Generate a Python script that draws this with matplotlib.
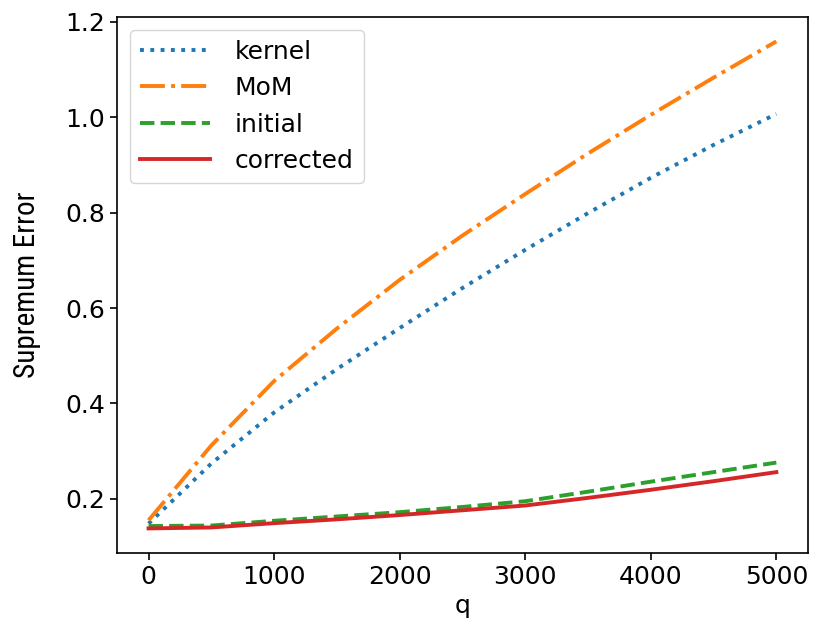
import matplotlib
matplotlib.use("Agg")
from matplotlib import pyplot as plt

# q values (every 500)
q = [0, 500, 1000, 1500, 2000, 2500, 3000, 3500, 4000, 4500, 5000]
# supremum error per method
kernel = [0.148, 0.274, 0.381, 0.472, 0.558, 0.642, 0.722, 0.799, 0.873, 0.942, 1.007]
mom = [0.155, 0.312, 0.447, 0.557, 0.659, 0.752, 0.839, 0.924, 1.005, 1.083, 1.159]
initial = [0.143, 0.144, 0.154, 0.163, 0.172, 0.183, 0.195, 0.215, 0.236, 0.256, 0.276]
corrected = [0.138, 0.140, 0.149, 0.157, 0.166, 0.176, 0.186, 0.202, 0.219, 0.237, 0.256]

fig = plt.figure(figsize=(8.31, 6.31), dpi=100)
ax = fig.add_axes([0.141, 0.124, 0.831, 0.849])
ax.plot(q, kernel, ":", color="tab:blue", lw=2.8, label="kernel")
ax.plot(q, mom, "-.", color="tab:orange", lw=2.8, label="MoM")
ax.plot(q, initial, "--", color="tab:green", lw=2.8, label="initial")
ax.plot(q, corrected, "-", color="tab:red", lw=2.8, label="corrected")

ax.set_xticks([0, 1000, 2000, 3000, 4000, 5000])
ax.set_yticks([0.2, 0.4, 0.6, 0.8, 1.0, 1.2])
ax.tick_params(labelsize=18, width=1.2, length=5)
for s in ax.spines.values():
    s.set_linewidth(1.2)
ax.set_xlabel("q", fontsize=18)
ax.set_ylabel("Supremum Error", fontsize=21,
              family=["Roboto Condensed", "Open Sans Condensed", "Noto Sans"])
ax.yaxis.set_label_coords(-0.110, 0.5)
ax.legend(loc="upper left", fontsize=18, handlelength=2.8, handletextpad=1.0)

fig.savefig("out.png", dpi=100)
